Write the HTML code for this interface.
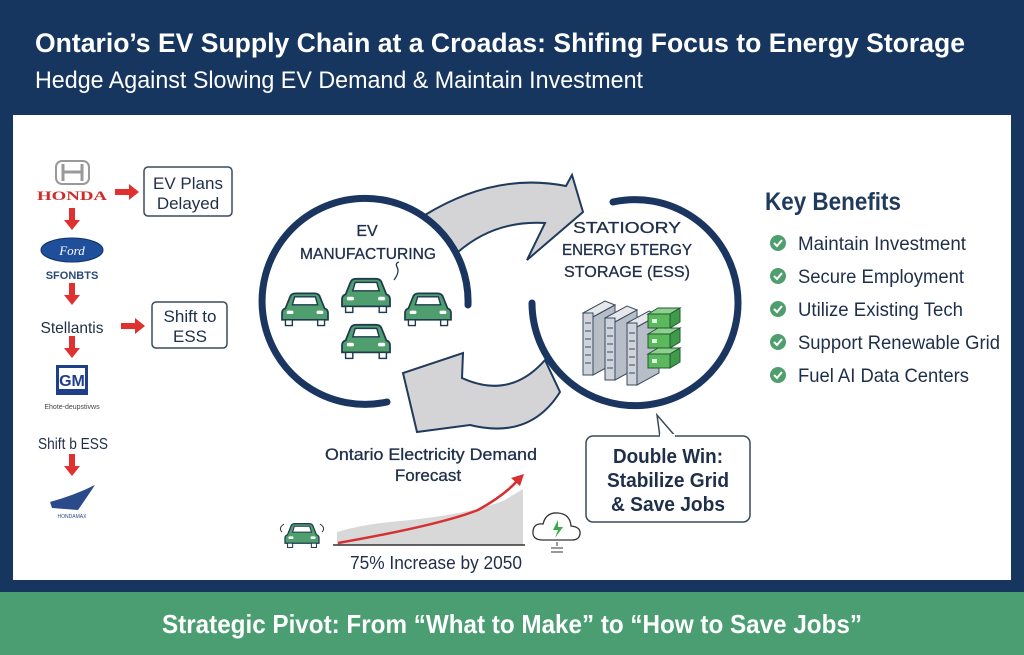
<!DOCTYPE html>
<html><head><meta charset="utf-8"><style>
html,body{margin:0;padding:0;background:#163660;}
svg{display:block;font-family:"Liberation Sans",sans-serif;}
</style></head><body>
<svg width="1024" height="655" viewBox="0 0 1024 655" xmlns="http://www.w3.org/2000/svg">
<defs>
<g id="car">
<path d="M-17,2 L-13,-8 Q-12,-11 -8,-11 L8,-11 Q12,-11 13,-8 L17,2 Q20,3 20,6 L20,12 L-20,12 L-20,6 Q-20,3 -17,2 Z" fill="#4f9e6e" stroke="#1f3a4f" stroke-width="1.5"/>
<path d="M-11,-1 L-9,-8 L9,-8 L11,-1 Z" fill="#fff" stroke="#1f3a4f" stroke-width="1.2"/>
<rect x="-16" y="4" width="6" height="3" rx="1.5" fill="#fff"/><rect x="10" y="4" width="6" height="3" rx="1.5" fill="#fff"/>
<rect x="-17" y="12" width="6" height="5" fill="#fff" stroke="#1f3a4f" stroke-width="1.2"/><rect x="11" y="12" width="6" height="5" fill="#fff" stroke="#1f3a4f" stroke-width="1.2"/>
</g>
<g id="ck"><circle r="8" fill="#4f9e6e"/><path d="M-4,0 L-1,3 L4,-3" stroke="#fff" stroke-width="2" fill="none"/></g>
<g id="ra"><path d="M0,-3 L14,-3 L14,-8 L24,0 L14,8 L14,3 L0,3 Z" fill="#e03030"/></g>
<g id="da"><path d="M-3,0 L3,0 L3,12 L8,12 L0,22 L-8,12 L-3,12 Z" fill="#e03030"/></g>
<g id="rack"><path d="M0,8 L22,-4 L32,0 L10,12 Z" fill="#e6e8ec" stroke="#3a4a60" stroke-width="1"/><rect x="0" y="8" width="10" height="62" fill="#cfd4dc" stroke="#3a4a60"/><path d="M10,12 L32,0 L32,58 L10,70 Z" fill="#b8bec8" stroke="#3a4a60"/>
<g stroke="#3a4a60" stroke-width="1"><line x1="2" y1="18" x2="8" y2="18"/><line x1="2" y1="26" x2="8" y2="26"/><line x1="2" y1="34" x2="8" y2="34"/><line x1="2" y1="42" x2="8" y2="42"/><line x1="2" y1="50" x2="8" y2="50"/><line x1="2" y1="58" x2="8" y2="58"/></g></g>
<g id="bat"><path d="M0,6 L10,0 L32,0 L22,6 Z" fill="#8fd08f" stroke="#1f5a30"/><rect x="0" y="6" width="22" height="14" fill="#5cb85c" stroke="#1f5a30"/><path d="M22,6 L32,0 L32,14 L22,20 Z" fill="#3f9a4a" stroke="#1f5a30"/><rect x="4" y="11" width="5" height="4" fill="#dfd"/></g>
</defs>
<rect width="1024" height="655" fill="#163660"/>
<rect x="13" y="115" width="998" height="465" fill="#fff"/>
<rect x="0" y="592" width="1024" height="63" fill="#4a9e72"/>
<text x="35" y="52" font-size="27" font-weight="bold" fill="#fff" textLength="930" lengthAdjust="spacingAndGlyphs">Ontario’s EV Supply Chain at a Croadas: Shifing Focus to Energy Storage</text>
<text x="35" y="88" font-size="24" fill="#fff" textLength="608" lengthAdjust="spacingAndGlyphs">Hedge Against Slowing EV Demand &amp; Maintain Investment</text>
<text x="512" y="633" font-size="26" font-weight="bold" fill="#fff" text-anchor="middle" textLength="700" lengthAdjust="spacingAndGlyphs">Strategic Pivot: From “What to Make” to “How to Save Jobs”</text>

<rect x="56" y="161" width="33" height="23" rx="6" fill="none" stroke="#999" stroke-width="2"/>
<path d="M63,164 L63,181 M82,164 L82,181 M63,172 L82,172" stroke="#999" stroke-width="3"/>
<text x="72" y="200" font-size="13" font-weight="bold" fill="#d02a2a" text-anchor="middle" font-family="Liberation Serif,serif" textLength="70" lengthAdjust="spacingAndGlyphs">HONDA</text>
<use href="#ra" x="115" y="192"/>
<rect x="144" y="167" width="88" height="49" rx="4" fill="#fff" stroke="#3a4a5a" stroke-width="1.5"/>
<text x="188" y="189" font-size="17" fill="#1f2f4a" text-anchor="middle">EV Plans</text>
<text x="188" y="209" font-size="17" fill="#1f2f4a" text-anchor="middle">Delayed</text>
<use href="#da" x="72" y="208"/>
<ellipse cx="72" cy="250" rx="31" ry="12" fill="#1f4f9a" stroke="#0f2f6a"/>
<text x="72" y="255" font-size="13" font-style="italic" fill="#fff" text-anchor="middle" font-family="Liberation Serif,serif">Ford</text>
<text x="72" y="279" font-size="11" font-weight="bold" fill="#2a4a7a" text-anchor="middle">SFONBTS</text>
<use href="#da" x="72" y="283"/>
<text x="72" y="333" font-size="16" fill="#1f2f4a" text-anchor="middle" textLength="63" lengthAdjust="spacingAndGlyphs">Stellantis</text>
<use href="#ra" x="121" y="326"/>
<rect x="152" y="302" width="75" height="46" rx="4" fill="#fff" stroke="#3a4a5a" stroke-width="1.5"/>
<text x="190" y="322" font-size="17" fill="#1f2f4a" text-anchor="middle">Shift to</text>
<text x="190" y="342" font-size="17" fill="#1f2f4a" text-anchor="middle">ESS</text>
<use href="#da" x="72" y="336"/>
<rect x="56" y="365" width="32" height="30" fill="#1f3f8a"/>
<rect x="59" y="368" width="26" height="21" fill="#fff"/>
<text x="72" y="386" font-size="16" font-weight="bold" fill="#1f3f8a" text-anchor="middle">GM</text>
<text x="72" y="409" font-size="7" fill="#444" text-anchor="middle">Ehote-deupstivws</text>
<text x="73" y="449" font-size="16" fill="#1f2f4a" text-anchor="middle" textLength="70" lengthAdjust="spacingAndGlyphs">Shift b ESS</text>
<use href="#da" x="72" y="454"/>
<path d="M50,502 Q75,495 95,485 Q85,500 78,510 L52,508 Z" fill="#2a4a8a"/>
<text x="72" y="518" font-size="5" fill="#2a4a8a" text-anchor="middle">HONDAMAX</text>

<path d="M425,215 Q495,172 566,186 L572,175 L583,212 L527,260 L545,223 Q495,220 458,252 Z" fill="#d4d4d6" stroke="#1f3a5c" stroke-width="2"/>
<path d="M560,392 Q530,440 470,425 L417,432 L403,373 L463,353 L462,378 Q510,400 545,360 Z" fill="#d4d4d6" stroke="#1f3a5c" stroke-width="2"/>

<path d="M468,305 A103,103 0 1 0 387,402" fill="none" stroke="#1a3560" stroke-width="7" stroke-linecap="round"/>
<path d="M613,202 A103,103 0 1 1 532,303" fill="none" stroke="#1a3560" stroke-width="7" stroke-linecap="round"/>
<text x="367" y="236" font-size="16" fill="#1f2f4a" text-anchor="middle" stroke="#1f2f4a" stroke-width="0.3">EV</text>
<text x="368" y="259" font-size="16" fill="#1f2f4a" text-anchor="middle" stroke="#1f2f4a" stroke-width="0.3" textLength="136" lengthAdjust="spacingAndGlyphs">MANUFACTURING</text>
<use href="#car" transform="translate(305,306) scale(1.15)"/>
<use href="#car" transform="translate(366,292) scale(1.2)"/>
<use href="#car" transform="translate(428,306) scale(1.15)"/>
<use href="#car" transform="translate(366,338) scale(1.2)"/>
<path d="M394,280 Q400,272 397,267 Q395,263 399,262" fill="none" stroke="#1f3a4f" stroke-width="1.3"/>
<text x="627" y="233" font-size="16" fill="#1f2f4a" text-anchor="middle" stroke="#1f2f4a" stroke-width="0.3" textLength="108" lengthAdjust="spacingAndGlyphs">STATIOORY</text>
<text x="627" y="255" font-size="16" fill="#1f2f4a" text-anchor="middle" stroke="#1f2f4a" stroke-width="0.3" textLength="130" lengthAdjust="spacingAndGlyphs">ENERGY БTERGY</text>
<text x="627" y="277" font-size="16" fill="#1f2f4a" text-anchor="middle" stroke="#1f2f4a" stroke-width="0.3" textLength="126" lengthAdjust="spacingAndGlyphs">STORAGE (ESS)</text>
<use href="#rack" x="583" y="305"/>
<use href="#rack" x="605" y="310"/>
<use href="#rack" x="627" y="315"/>
<use href="#bat" x="648" y="308"/>
<use href="#bat" x="648" y="328"/>
<use href="#bat" x="648" y="348"/>

<text x="431" y="460" font-size="17" fill="#1f2f4a" text-anchor="middle" stroke="#1f2f4a" stroke-width="0.3" textLength="212" lengthAdjust="spacingAndGlyphs">Ontario Electricity Demand</text>
<text x="428" y="481" font-size="17" fill="#1f2f4a" text-anchor="middle" stroke="#1f2f4a" stroke-width="0.3">Forecast</text>
<path d="M337,532 Q360,525 390,522 Q470,515 505,500 L523,489 L523,545 L337,545 Z" fill="#d8d8d8"/>
<line x1="333" y1="545" x2="525" y2="545" stroke="#333" stroke-width="1.5"/>
<path d="M338,543 Q440,525 478,510 Q505,495 518,480" fill="none" stroke="#d83030" stroke-width="2.5"/>
<path d="M524,474 L511,478 L520,486 Z" fill="#d83030"/>
<text x="436" y="569" font-size="18" fill="#1f2f4a" text-anchor="middle" textLength="172" lengthAdjust="spacingAndGlyphs">75% Increase by 2050</text>
<use href="#car" transform="translate(302,533) scale(0.85)"/>
<path d="M282,532 q-4,-4 2,-8 M322,532 q4,-4 -2,-8" stroke="#333" fill="none"/>
<path d="M543,540 Q532,540 533,531 Q534,523 543,524 Q546,512 558,513 Q570,514 571,526 Q581,527 580,534 Q579,540 572,540 Z" fill="#fff" stroke="#333" stroke-width="1.3"/>
<path d="M558,520 L553,530 L558,530 L555,538 L563,527 L558,527 Z" fill="#3aaa4a"/>
<path d="M551,548 L563,548 M551,552 L563,552 M557,542 L557,546" stroke="#333"/>

<path d="M660,437 L657,415 L676,437" fill="#fff" stroke="#3a4a5a" stroke-width="1.5"/>
<rect x="586" y="436" width="164" height="86" rx="7" fill="#fff" stroke="#3a4a5a" stroke-width="1.5"/>
<rect x="660" y="434" width="15" height="4" fill="#fff"/>
<text x="668" y="463" font-size="20" font-weight="bold" fill="#1f2f4a" text-anchor="middle" textLength="110" lengthAdjust="spacingAndGlyphs">Double Win:</text>
<text x="668" y="487" font-size="20" font-weight="bold" fill="#1f2f4a" text-anchor="middle" textLength="122" lengthAdjust="spacingAndGlyphs">Stabilize Grid</text>
<text x="668" y="511" font-size="20" font-weight="bold" fill="#1f2f4a" text-anchor="middle" textLength="114" lengthAdjust="spacingAndGlyphs">&amp; Save Jobs</text>

<text x="765" y="210" font-size="25" font-weight="bold" fill="#1f3a5c" textLength="136" lengthAdjust="spacingAndGlyphs">Key Benefits</text>
<use href="#ck" x="778" y="243"/><text x="798" y="250" font-size="19" fill="#1f2f4a" textLength="168" lengthAdjust="spacingAndGlyphs">Maintain Investment</text>
<use href="#ck" x="778" y="276"/><text x="798" y="283" font-size="19" fill="#1f2f4a" textLength="166" lengthAdjust="spacingAndGlyphs">Secure Employment</text>
<use href="#ck" x="778" y="309"/><text x="798" y="316" font-size="19" fill="#1f2f4a" textLength="165" lengthAdjust="spacingAndGlyphs">Utilize Existing Tech</text>
<use href="#ck" x="778" y="342"/><text x="798" y="349" font-size="19" fill="#1f2f4a" textLength="202" lengthAdjust="spacingAndGlyphs">Support Renewable Grid</text>
<use href="#ck" x="778" y="375"/><text x="798" y="382" font-size="19" fill="#1f2f4a" textLength="171" lengthAdjust="spacingAndGlyphs">Fuel AI Data Centers</text>
</svg>
</body></html>
